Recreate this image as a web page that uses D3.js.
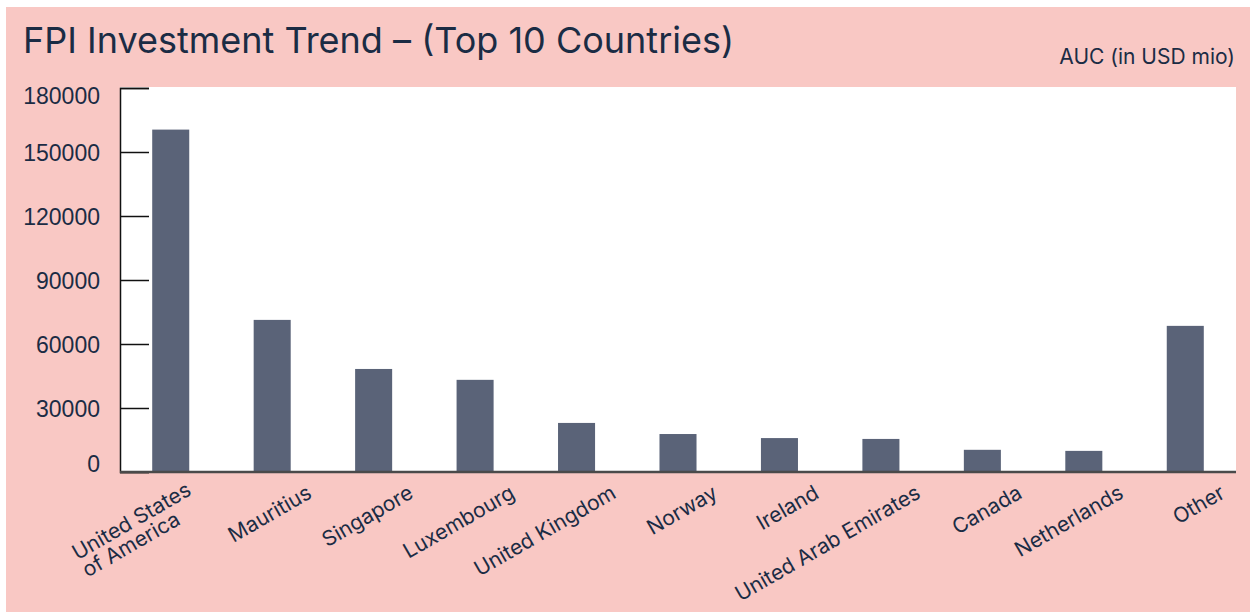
<!DOCTYPE html>
<html><head>
<meta charset="utf-8">
<title>FPI Investment Trend</title>
<script src="https://d3js.org/d3.v7.min.js"></script>
<style>
  body { margin: 0; background: #fff; }
  .title { font-family: Inter, "Open Sans", sans-serif; fill: #1b2c44; }
  .ylab text { font-family: "Liberation Sans", Arial, sans-serif; font-size: 23px; fill: #1b2c44; }
  .xlab { font-family: Inter, "Open Sans", sans-serif; font-size: 21px; fill: #1b2c44; }
</style>
</head>
<body>
<svg id="chart" width="1250" height="612"></svg>
<script>
  // data
  const countries = ["United States|of America", "Mauritius", "Singapore", "Luxembourg",
    "United Kingdom", "Norway", "Ireland", "United Arab Emirates", "Canada", "Netherlands", "Other"];
  const auc = [160500, 71300, 48300, 43200, 23000, 17800, 15900, 15500, 10400, 9900, 68500];
  const yTicks = [0, 30000, 60000, 90000, 120000, 150000, 180000];

  const svg = d3.select("#chart");
  const plot = { left: 120, right: 1236, top: 88, bottom: 472 };

  // pink panel + white plot area
  svg.append("rect").attr("x", 6).attr("y", 7).attr("width", 1244).attr("height", 605).attr("fill", "#f9c8c4");
  svg.append("rect").attr("x", plot.left).attr("y", plot.top - 1)
    .attr("width", plot.right - plot.left).attr("height", plot.bottom - plot.top + 1).attr("fill", "#fff");

  svg.append("text").attr("class", "title").attr("x", 23).attr("y", 53)
    .style("font-size", "36px").text("FPI Investment Trend \u2013 (Top 10 Countries)");
  svg.append("text").attr("class", "title").attr("x", 1235).attr("y", 64)
    .attr("text-anchor", "end").style("font-size", "21px").text("AUC (in USD mio)");

  const x = d3.scaleBand().domain(countries).range([plot.left, plot.right])
    .paddingInner(0.635).paddingOuter(0.3175);
  const y = d3.scaleLinear().domain([0, 180000]).range([plot.bottom, plot.top]);

  // bars
  svg.append("g").selectAll("rect").data(countries).join("rect")
    .attr("x", d => x(d))
    .attr("y", (d, i) => y(auc[i]))
    .attr("width", x.bandwidth())
    .attr("height", (d, i) => y(0) - y(auc[i]))
    .attr("fill", "#5a6378");

  // y axis: ticks point inward, labels set off to the left
  const yAxis = d3.axisRight(y).tickValues(yTicks).tickSize(29).tickFormat(d3.format("d"));
  const ya = svg.append("g").attr("class", "ylab").attr("transform", "translate(" + plot.left + ",0)").call(yAxis);
  ya.select(".domain").attr("stroke", "#111").attr("stroke-width", 1.5);
  ya.selectAll(".tick line").attr("stroke", "#111").attr("stroke-width", 1.5);
  // end labels are pulled inside the axis span, as in the original
  ya.selectAll(".tick text").attr("x", -20).attr("text-anchor", "end")
    .attr("dy", d => d === 180000 ? "0.66em" : d === 0 ? "-0.04em" : "0.36em");

  // baseline
  svg.append("line").attr("x1", plot.left).attr("x2", plot.right)
    .attr("y1", y(0)).attr("y2", y(0)).attr("stroke", "#4a4a4a").attr("stroke-width", 2.5);

  // rotated category labels
  const labels = svg.append("g").selectAll("g").data(countries).join("g")
    .attr("transform", d => {
      const multi = d.indexOf("|") >= 0;
      const cx = x(d) + x.bandwidth() / 2 + (multi ? 22 : 41);
      const cy = y(0) + (multi ? 22 : 25);
      return "translate(" + cx + "," + cy + ") rotate(-30)";
    });
  labels.each(function(d) {
    const g = d3.select(this);
    const lines = d.split("|");
    const first = g.append("text").attr("class", "xlab").attr("text-anchor", "end").text(lines[0]);
    const w = first.node().getComputedTextLength();
    lines.slice(1).forEach((l, k) => {
      g.append("text").attr("class", "xlab").attr("x", -w).attr("y", 20 * (k + 1)).text(l);
    });
  });
</script>
</body>
</html>
